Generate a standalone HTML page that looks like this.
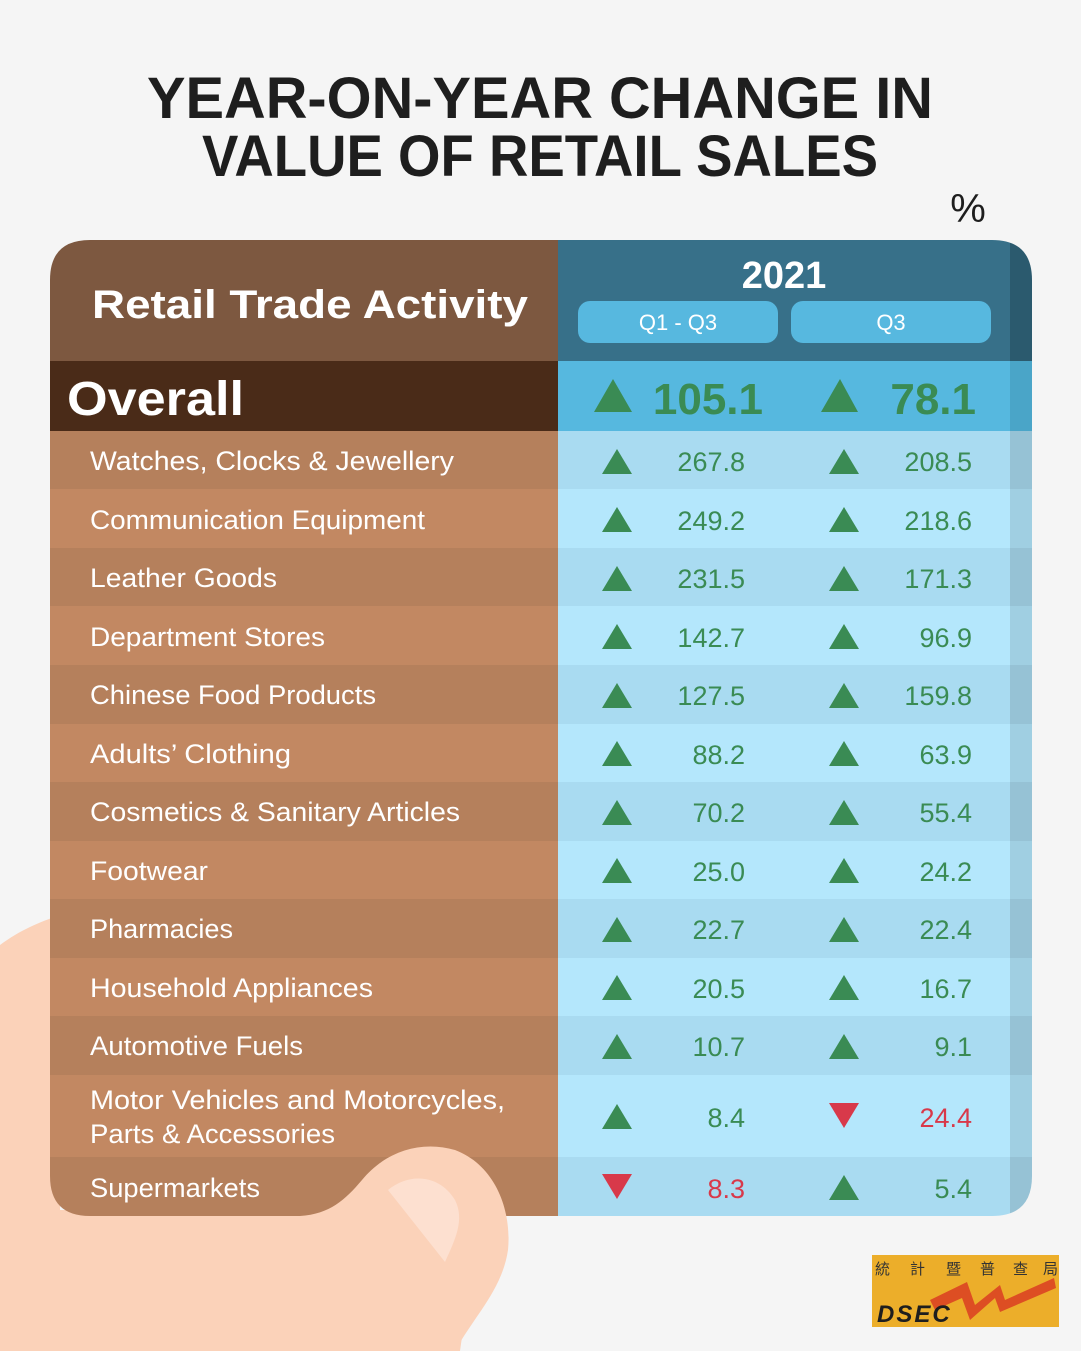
<!DOCTYPE html>
<html><head><meta charset="utf-8"><style>
html,body{margin:0;padding:0;background:#f5f5f5}
svg{display:block}
text{font-family:"Liberation Sans",sans-serif}
</style></head><body>
<svg width="1081" height="1351" viewBox="0 0 1081 1351" xmlns="http://www.w3.org/2000/svg">
<rect width="1081" height="1351" fill="#f5f5f5"/>
<!-- hand back -->
<path d="M0 945 C20 930 40 922 60 915 L60 1216 L0 1216 Z" fill="#fbd2b9"/>
<path d="M0 1210 L0 1351 L460 1351 L480 1210 Z" fill="#fbd2b9"/>
<defs>
<clipPath id="card"><path d="M90 240 H992 Q1032 240 1032 280 V1176 Q1032 1216 992 1216 H90 Q50 1216 50 1176 V280 Q50 240 90 240 Z"/></clipPath>
</defs>
<g clip-path="url(#card)">
<rect x="50" y="240" width="508" height="121" fill="#7d5840"/>
<rect x="558" y="240" width="452" height="121" fill="#377089"/>
<rect x="1010" y="240" width="22" height="121" fill="#2b5a6e"/>
<rect x="50" y="361" width="508" height="70" fill="#4a2b18"/>
<rect x="558" y="361" width="452" height="70" fill="#56b8df"/>
<rect x="1010" y="361" width="22" height="70" fill="#4aa5c8"/>
<rect x="50" y="431" width="508" height="58" fill="#b5805c"/><rect x="558" y="431" width="452" height="58" fill="#a9dbf1"/><rect x="1010" y="431" width="22" height="58" fill="#96c2d5"/>
<rect x="50" y="489" width="508" height="59" fill="#c28862"/><rect x="558" y="489" width="452" height="59" fill="#b4e7fc"/><rect x="1010" y="489" width="22" height="59" fill="#a0cfe2"/>
<rect x="50" y="548" width="508" height="58" fill="#b5805c"/><rect x="558" y="548" width="452" height="58" fill="#a9dbf1"/><rect x="1010" y="548" width="22" height="58" fill="#96c2d5"/>
<rect x="50" y="606" width="508" height="59" fill="#c28862"/><rect x="558" y="606" width="452" height="59" fill="#b4e7fc"/><rect x="1010" y="606" width="22" height="59" fill="#a0cfe2"/>
<rect x="50" y="665" width="508" height="59" fill="#b5805c"/><rect x="558" y="665" width="452" height="59" fill="#a9dbf1"/><rect x="1010" y="665" width="22" height="59" fill="#96c2d5"/>
<rect x="50" y="724" width="508" height="58" fill="#c28862"/><rect x="558" y="724" width="452" height="58" fill="#b4e7fc"/><rect x="1010" y="724" width="22" height="58" fill="#a0cfe2"/>
<rect x="50" y="782" width="508" height="59" fill="#b5805c"/><rect x="558" y="782" width="452" height="59" fill="#a9dbf1"/><rect x="1010" y="782" width="22" height="59" fill="#96c2d5"/>
<rect x="50" y="841" width="508" height="58" fill="#c28862"/><rect x="558" y="841" width="452" height="58" fill="#b4e7fc"/><rect x="1010" y="841" width="22" height="58" fill="#a0cfe2"/>
<rect x="50" y="899" width="508" height="59" fill="#b5805c"/><rect x="558" y="899" width="452" height="59" fill="#a9dbf1"/><rect x="1010" y="899" width="22" height="59" fill="#96c2d5"/>
<rect x="50" y="958" width="508" height="58" fill="#c28862"/><rect x="558" y="958" width="452" height="58" fill="#b4e7fc"/><rect x="1010" y="958" width="22" height="58" fill="#a0cfe2"/>
<rect x="50" y="1016" width="508" height="59" fill="#b5805c"/><rect x="558" y="1016" width="452" height="59" fill="#a9dbf1"/><rect x="1010" y="1016" width="22" height="59" fill="#96c2d5"/>
<rect x="50" y="1075" width="508" height="82" fill="#c28862"/><rect x="558" y="1075" width="452" height="82" fill="#b4e7fc"/><rect x="1010" y="1075" width="22" height="82" fill="#a0cfe2"/>
<rect x="50" y="1157" width="508" height="59" fill="#b5805c"/><rect x="558" y="1157" width="452" height="59" fill="#a9dbf1"/><rect x="1010" y="1157" width="22" height="59" fill="#96c2d5"/>
</g>
<!-- thumb -->
<path d="M300 1216 C330 1214 345 1200 362 1180 C385 1152 420 1140 455 1150 C495 1165 512 1210 508 1250 C502 1290 475 1315 455 1351 L300 1351 Z" fill="#fbd2b9"/>
<path d="M388 1190 C410 1172 440 1175 455 1200 C465 1220 455 1240 445 1262 Z" fill="#fde0d0"/>
<!-- title -->
<text x="540" y="118" text-anchor="middle" font-size="58" font-weight="bold" fill="#1e1e1e" textLength="786" lengthAdjust="spacingAndGlyphs">YEAR-ON-YEAR CHANGE IN</text>
<text x="540" y="176" text-anchor="middle" font-size="58" font-weight="bold" fill="#1e1e1e" textLength="676" lengthAdjust="spacingAndGlyphs">VALUE OF RETAIL SALES</text>
<text x="968" y="222" text-anchor="middle" font-size="40" fill="#1e1e1e">%</text>
<!-- header -->
<text x="92" y="318" font-size="40" font-weight="bold" fill="#fff" textLength="436" lengthAdjust="spacingAndGlyphs">Retail Trade Activity</text>
<text x="784" y="288" text-anchor="middle" font-size="38" font-weight="bold" fill="#fff">2021</text>
<rect x="578" y="301" width="200" height="42" rx="12" fill="#57b8df"/>
<rect x="791" y="301" width="200" height="42" rx="12" fill="#57b8df"/>
<text x="678" y="330" text-anchor="middle" font-size="22" fill="#fff">Q1 - Q3</text>
<text x="891" y="330" text-anchor="middle" font-size="22" fill="#fff">Q3</text>
<!-- overall -->
<text x="67" y="415" font-size="48" font-weight="bold" fill="#fff" textLength="177" lengthAdjust="spacingAndGlyphs">Overall</text>
<polygon points="594,412 632,412 613,379" fill="#3a8b54"/>
<polygon points="821,412 858,412 840,379" fill="#3a8b54"/>
<text x="763" y="414" text-anchor="end" font-size="44" font-weight="bold" fill="#3a8b54">105.1</text>
<text x="976" y="414" text-anchor="end" font-size="44" font-weight="bold" fill="#3a8b54">78.1</text>
<!-- rows -->
<g font-size="27" fill="#fff">
<text x="90" y="470" textLength="364" lengthAdjust="spacingAndGlyphs">Watches, Clocks &amp; Jewellery</text>
<text x="90" y="529" textLength="335" lengthAdjust="spacingAndGlyphs">Communication Equipment</text>
<text x="90" y="587" textLength="187" lengthAdjust="spacingAndGlyphs">Leather Goods</text>
<text x="90" y="646" textLength="235" lengthAdjust="spacingAndGlyphs">Department Stores</text>
<text x="90" y="704" textLength="286" lengthAdjust="spacingAndGlyphs">Chinese Food Products</text>
<text x="90" y="763" textLength="201" lengthAdjust="spacingAndGlyphs">Adults’ Clothing</text>
<text x="90" y="821" textLength="370" lengthAdjust="spacingAndGlyphs">Cosmetics &amp; Sanitary Articles</text>
<text x="90" y="880" textLength="118" lengthAdjust="spacingAndGlyphs">Footwear</text>
<text x="90" y="938" textLength="143" lengthAdjust="spacingAndGlyphs">Pharmacies</text>
<text x="90" y="997" textLength="283" lengthAdjust="spacingAndGlyphs">Household Appliances</text>
<text x="90" y="1055" textLength="213" lengthAdjust="spacingAndGlyphs">Automotive Fuels</text>
<text x="90" y="1109" textLength="415" lengthAdjust="spacingAndGlyphs">Motor Vehicles and Motorcycles,</text>
<text x="90" y="1143" textLength="245" lengthAdjust="spacingAndGlyphs">Parts &amp; Accessories</text>
<text x="90" y="1197" textLength="170" lengthAdjust="spacingAndGlyphs">Supermarkets</text>
</g>
<g fill="#3a8b54">
<polygon points="602,474 632,474 617,449"/><polygon points="829,474 859,474 844,449"/>
<polygon points="602,532 632,532 617,507"/><polygon points="829,532 859,532 844,507"/>
<polygon points="602,591 632,591 617,566"/><polygon points="829,591 859,591 844,566"/>
<polygon points="602,649 632,649 617,624"/><polygon points="829,649 859,649 844,624"/>
<polygon points="602,708 632,708 617,683"/><polygon points="829,708 859,708 844,683"/>
<polygon points="602,766 632,766 617,741"/><polygon points="829,766 859,766 844,741"/>
<polygon points="602,825 632,825 617,800"/><polygon points="829,825 859,825 844,800"/>
<polygon points="602,883 632,883 617,858"/><polygon points="829,883 859,883 844,858"/>
<polygon points="602,942 632,942 617,917"/><polygon points="829,942 859,942 844,917"/>
<polygon points="602,1000 632,1000 617,975"/><polygon points="829,1000 859,1000 844,975"/>
<polygon points="602,1059 632,1059 617,1034"/><polygon points="829,1059 859,1059 844,1034"/>
<polygon points="602,1129 632,1129 617,1104"/>
<polygon points="829,1200 859,1200 844,1175"/>
</g>
<g fill="#d8394a">
<polygon points="829,1103 859,1103 844,1128"/>
<polygon points="602,1174 632,1174 617,1199"/>
</g>
<g font-size="27" fill="#3a8b54" text-anchor="end">
<text x="745" y="471">267.8</text><text x="972" y="471">208.5</text>
<text x="745" y="530">249.2</text><text x="972" y="530">218.6</text>
<text x="745" y="588">231.5</text><text x="972" y="588">171.3</text>
<text x="745" y="647">142.7</text><text x="972" y="647">96.9</text>
<text x="745" y="705">127.5</text><text x="972" y="705">159.8</text>
<text x="745" y="764">88.2</text><text x="972" y="764">63.9</text>
<text x="745" y="822">70.2</text><text x="972" y="822">55.4</text>
<text x="745" y="881">25.0</text><text x="972" y="881">24.2</text>
<text x="745" y="939">22.7</text><text x="972" y="939">22.4</text>
<text x="745" y="998">20.5</text><text x="972" y="998">16.7</text>
<text x="745" y="1056">10.7</text><text x="972" y="1056">9.1</text>
<text x="745" y="1127">8.4</text><text x="972" y="1198">5.4</text>
</g>
<text x="972" y="1127" text-anchor="end" font-size="27" fill="#d8394a">24.4</text>
<text x="745" y="1198" text-anchor="end" font-size="27" fill="#d8394a">8.3</text>
<!-- logo -->
<rect x="872" y="1255" width="187" height="72" fill="#ecae2a"/>
<g font-family="'Noto Sans CJK TC',sans-serif" font-size="15" fill="#333">
<text x="875" y="1274">統</text><text x="910" y="1274">計</text><text x="946" y="1274">暨</text><text x="980" y="1274">普</text><text x="1013" y="1274">查</text><text x="1043" y="1274">局</text>
</g>
<polygon points="930,1300 967,1282 975,1305 1000,1285 1005,1300 1054,1278 1056,1288 1000,1312 995,1298 970,1320 962,1298 935,1310" fill="#dd4e23"/>
<text x="877" y="1322" font-size="24" font-weight="bold" font-style="italic" fill="#1e1e1e" letter-spacing="2">DSEC</text>
</svg>
</body></html>
